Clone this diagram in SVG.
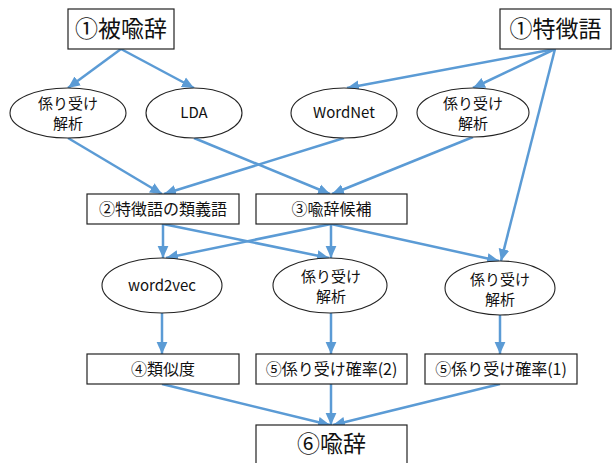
<svg xmlns="http://www.w3.org/2000/svg" width="613" height="463" viewBox="0 0 613 463">
<style>
.box{fill:#fff;stroke:#222;stroke-width:1.2}
.ell{fill:#fff;stroke:#222;stroke-width:1.1}
text{font-family:"Noto Sans CJK JP","Noto Sans",sans-serif;fill:#111;text-anchor:middle}
.big{font-size:23px}
.mid{font-size:16px}
.sm{font-size:15px}
.c line{stroke:#5b9bd5;stroke-width:2.5;marker-end:url(#ah)}
</style>
<defs>
<marker id="ah" markerUnits="userSpaceOnUse" markerWidth="12" markerHeight="12" viewBox="0 0 10 10" refX="10" refY="5" orient="auto">
<path d="M0,0.5 L10,5 L0,9.5 z" fill="#5b9bd5"/>
</marker>
</defs>
<rect width="613" height="463" fill="#fff"/>
<g class="c" id="connectors">
<line x1="121" y1="49" x2="68" y2="88"/>
<line x1="121" y1="49" x2="194" y2="88"/>
<line x1="555" y1="49" x2="347" y2="88"/>
<line x1="555" y1="49" x2="473" y2="88"/>
<line x1="555" y1="49" x2="501" y2="261"/>
<line x1="68" y1="138" x2="162" y2="194"/>
<line x1="344" y1="138" x2="164" y2="194"/>
<line x1="194" y1="138" x2="330" y2="194"/>
<line x1="473" y1="137" x2="332" y2="194"/>
<line x1="163" y1="224" x2="163" y2="258"/>
<line x1="163" y1="224" x2="329" y2="258"/>
<line x1="331" y1="224" x2="166" y2="258"/>
<line x1="331" y1="224" x2="331" y2="258"/>
<line x1="331" y1="224" x2="499" y2="261"/>
<line x1="162" y1="313" x2="162" y2="354"/>
<line x1="331" y1="313" x2="331" y2="354"/>
<line x1="500" y1="315" x2="500" y2="354"/>
<line x1="162" y1="384" x2="330" y2="425"/>
<line x1="331" y1="384" x2="331" y2="425"/>
<line x1="500" y1="384" x2="333" y2="425"/>
</g>
<g id="n1">
<rect class="box" x="68" y="9" width="106" height="40"/>
<text class="big" x="121" y="37">①被喩辞</text>
</g>
<g id="n2">
<rect class="box" x="500" y="9" width="111" height="40"/>
<text class="big" x="555.5" y="37">①特徴語</text>
</g>
<g id="n3">
<ellipse class="ell" cx="68" cy="113" rx="58" ry="25"/>
<text class="sm" x="68" y="109">係り受け</text>
<text class="sm" x="68" y="129">解析</text>
</g>
<g id="n4">
<ellipse class="ell" cx="194" cy="113" rx="48" ry="25"/>
<text class="sm" x="194" y="118">LDA</text>
</g>
<g id="n5">
<ellipse class="ell" cx="344" cy="113" rx="53" ry="25"/>
<text class="sm" x="344" y="118">WordNet</text>
</g>
<g id="n6">
<ellipse class="ell" cx="473" cy="112.5" rx="56" ry="24.5"/>
<text class="sm" x="473" y="109">係り受け</text>
<text class="sm" x="473" y="129">解析</text>
</g>
<g id="n7">
<rect class="box" x="87" y="194" width="152" height="30"/>
<text class="mid" x="163" y="215">②特徴語の類義語</text>
</g>
<g id="n8">
<rect class="box" x="256" y="194" width="151" height="30"/>
<text class="mid" x="331.5" y="215">③喩辞候補</text>
</g>
<g id="n9">
<ellipse class="ell" cx="162" cy="285.5" rx="60" ry="27.5"/>
<text class="sm" x="162" y="291">word2vec</text>
</g>
<g id="n10">
<ellipse class="ell" cx="330" cy="285.5" rx="57" ry="27.5"/>
<text class="sm" x="331" y="282">係り受け</text>
<text class="sm" x="331" y="302">解析</text>
</g>
<g id="n11">
<ellipse class="ell" cx="500" cy="288" rx="55" ry="27"/>
<text class="sm" x="500" y="285">係り受け</text>
<text class="sm" x="500" y="305">解析</text>
</g>
<g id="n12">
<rect class="box" x="87" y="354" width="152" height="30"/>
<text class="mid" x="163" y="375">④類似度</text>
</g>
<g id="n13">
<rect class="box" x="256" y="354" width="151" height="30"/>
<text class="mid" x="331.5" y="375">⑤係り受け確率(2)</text>
</g>
<g id="n14">
<rect class="box" x="425" y="354" width="152" height="30"/>
<text class="mid" x="501" y="375">⑤係り受け確率(1)</text>
</g>
<g id="n15">
<rect class="box" x="256" y="425" width="151" height="45"/>
<text class="big" x="331.5" y="452">⑥喩辞</text>
</g>
</svg>
